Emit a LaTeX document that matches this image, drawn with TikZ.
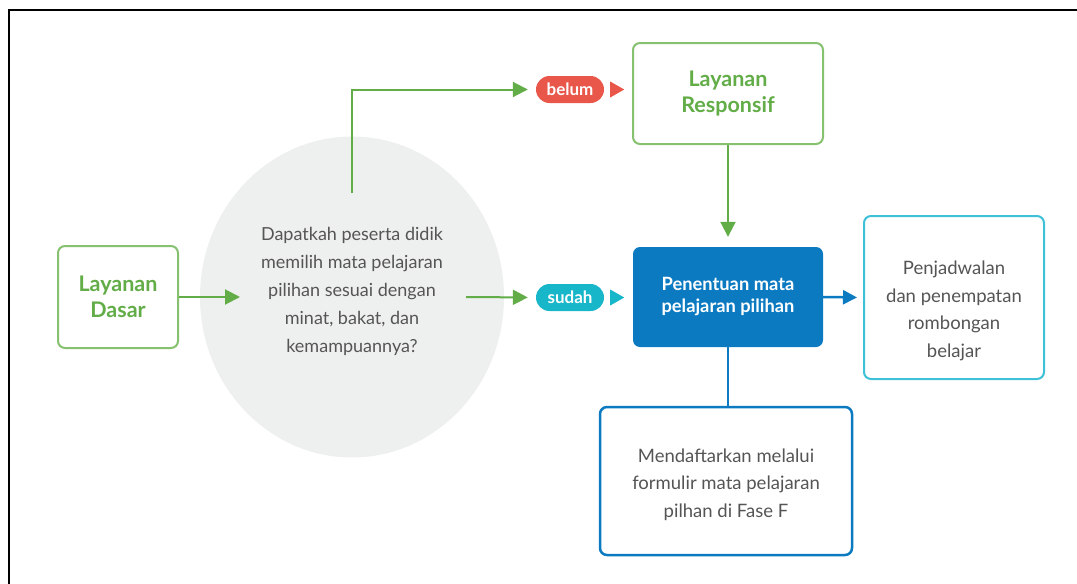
\documentclass[tikz,border=0pt]{standalone}
\usepackage{fontspec}
\setmainfont{Lato}
\usetikzlibrary{arrows.meta, positioning, shapes.geometric}

\definecolor{hijau}{HTML}{62AD47}
\definecolor{hijaumuda}{HTML}{86C170}
\definecolor{merah}{HTML}{E9574B}
\definecolor{toska}{HTML}{17B6C9}
\definecolor{biru}{HTML}{0B7AC1}
\definecolor{birumuda}{HTML}{3DC0D8}
\definecolor{abu}{HTML}{EEEFEF}
\definecolor{teks}{HTML}{555555}

\newcommand{\geser}[2]{\raisebox{#1}[\height][\depth]{\begin{tabular}{@{}c@{}}#2\end{tabular}}}

\begin{document}
\begin{tikzpicture}[x=1pt, y=-1pt,
    kotakhijau/.style={draw=hijaumuda, line width=2pt, rounded corners=7pt, fill=white,
      text=hijau, align=center, font=\fontsize{21.5}{26.5}\selectfont\bfseries},
    kotakteks/.style={line width=2pt, rounded corners=7pt, fill=white,
      text=teks, align=center, font=\fontsize{18.5}{27.5}\selectfont},
    pil/.style={rounded corners=13.5pt, minimum width=68pt, minimum height=27pt,
      inner sep=0pt, text=white, font=\fontsize{17}{20}\selectfont\bfseries},
    panahhijau/.style={draw=hijau, line width=2pt, -{Triangle[length=15pt,width=15pt]}},
    panahbiru/.style={draw=biru, line width=2.5pt, -{Triangle[length=14pt,width=14pt]}}]

  % Bingkai
  \useasboundingbox (0,0) rectangle (1077,584);
  \draw[line width=2.5pt] (9,584) -- (9,10) -- (1077,10);

  % Pertanyaan
  \node[ellipse, fill=abu, minimum width=304pt, minimum height=321pt, inner sep=0pt,
    text=teks, align=center, font=\fontsize{18}{28}\selectfont] (tanya) at (352,297)
    {\geser{6pt}{Dapatkah peserta didik\\memilih mata pelajaran\\pilihan sesuai dengan\\minat, bakat, dan\\kemampuannya?}};

  % Kotak
  \node[kotakhijau, minimum width=120pt, minimum height=102pt] (dasar) at (118,297) {Layanan\\Dasar};
  \node[kotakhijau, minimum width=190pt, minimum height=101pt] (respon) at (728,93.5) {Layanan\\Responsif};
  \node[rounded corners=7pt, fill=biru, text=white, align=center, minimum width=190pt,
    minimum height=100pt, font=\fontsize{18.3}{22}\selectfont\bfseries] (tentu) at (728,297)
    {Penentuan mata\\pelajaran pilihan};
  \node[kotakteks, draw=birumuda, minimum width=180pt, minimum height=163pt] (jadwal) at (954,297.5)
    {\geser{-13pt}{Penjadwalan\\dan penempatan\\rombongan\\belajar}};
  \node[kotakteks, draw=biru, line width=2.5pt, minimum width=252pt, minimum height=148pt] (daftar) at (726,481)
    {\geser{-3pt}{Mendaftarkan melalui\\formulir mata pelajaran\\pilhan di Fase F}};

  % Label
  \node[pil, fill=merah] (belum) at (570,89.5) {belum};
  \node[pil, fill=toska] (sudah) at (570,297.5) {sudah};
  \fill[merah] ([xshift=6pt,yshift=8pt]belum.east) -- ([xshift=20pt]belum.east)
    -- ([xshift=6pt,yshift=-8pt]belum.east) -- cycle;
  \fill[toska] ([xshift=6pt,yshift=8pt]sudah.east) -- ([xshift=20pt]sudah.east)
    -- ([xshift=6pt,yshift=-8pt]sudah.east) -- cycle;

  % Panah
  \coordinate (ujung1) at (240,297);
  \coordinate (atas) at (352,193);
  \coordinate (kanan) at (466,297);
  \draw[panahhijau] (dasar.east) -- (ujung1);
  \draw[panahhijau, shorten >=8pt] (atas) |- (belum.west);
  \draw[panahhijau, shorten >=8pt] (kanan) -- (sudah.west);
  \draw[panahhijau, shorten >=10pt] (respon.south) -- (tentu.north);
  \draw[panahbiru, shorten >=6pt] (tentu.east) -- (jadwal.west);
  \draw[biru, line width=2.5pt] (tentu.south) -- (tentu.south |- daftar.north);
\end{tikzpicture}
\end{document}
